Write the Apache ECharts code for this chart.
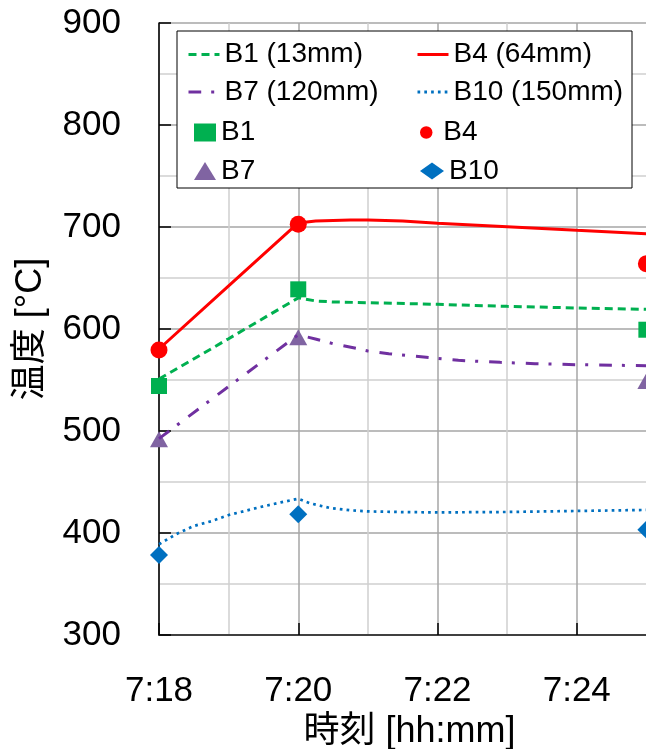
<!DOCTYPE html>
<html>
<head>
<meta charset="utf-8">
<script src="https://cdn.jsdelivr.net/npm/echarts@6/dist/echarts.min.js"></script>
<style>
html,body{margin:0;padding:0;background:#fff;}
#chart{width:646px;height:749px;}
</style>
</head>
<body>
<div id="chart"></div>
<script>
// Time in minutes after 7:00
const timesB1  = [18, 19, 20, 20.25, 20.5, 21, 22, 23, 24, 25];
const lineB1   = [551, 590.5, 630.5, 627.5, 626.5, 625.8, 624.2, 622.2, 620.6, 619.3];
const timesB4  = [18, 19, 20, 20.25, 20.5, 20.75, 21, 21.5, 22, 23, 24, 25];
const lineB4   = [580.4, 642.3, 704, 705.8, 706.4, 706.9, 706.9, 706, 703.6, 700.3, 696.7, 693.4];
const timesB7  = [18, 19, 20, 20.26, 20.5, 20.83, 21, 21.3, 21.8, 22.3, 22.9, 23.4, 24, 25];
const lineB7   = [492.5, 543.6, 594.3, 590, 585.6, 581, 578.4, 575.7, 572.5, 569.3, 567.3, 566, 565, 564];
const timesB10 = [18, 18.25, 18.5, 18.75, 19, 19.25, 19.5, 19.75, 20, 20.17, 20.45, 20.75, 21, 21.5, 22, 23, 24, 25];
const lineB10  = [389, 399, 406.9, 411.5, 417.6, 421.9, 426.2, 430, 433.6, 429.1, 424.6, 422.2, 421.2, 420.5, 420.2, 420.6, 421.6, 422.6];

const pointTimes = [18, 20, 25];
const ptB1  = [544.1, 638.9, 599.3];
const ptB4  = [579.5, 702.6, 664];
const ptB7  = [492, 592, 549];
const ptB10 = [378.4, 418.3, 403.3];

const xTicks = [18, 20, 22, 24];
const lineNames = ['B1 (13mm)', 'B4 (64mm)', 'B7 (120mm)', 'B10 (150mm)'];
const pointNames = ['B1', 'B4', 'B7', 'B10'];

const FONT = '"Liberation Sans", "Noto Sans CJK JP", sans-serif';
const pair = (xs, ys) => xs.map((x, i) => [x, ys[i]]);

const chart = echarts.init(document.getElementById('chart'), null, {renderer: 'canvas'});

const txt = {fontFamily: FONT, fontSize: 28, color: '#000', lineHeight: 30};
function leg(name, left, top, w, h, extra) {
  return Object.assign({
    data: [{name: name}], left: left, top: top, itemWidth: w, itemHeight: h,
    padding: 0, selectedMode: false, textStyle: txt, z: 11, symbolKeepAspect: true
  }, extra || {});
}
const lineLeg = {itemStyle: {opacity: 0, borderWidth: 0}, lineStyle: {width: 3}};

const option = {
  animation: false,
  backgroundColor: '#fff',
  grid: {left: 159, top: 23, width: 557, height: 612, containLabel: false, outerBoundsMode: 'none'},
  xAxis: {
    type: 'value', min: 18, max: 26, interval: 2,
    name: '時刻 [hh:mm]', nameLocation: 'middle', nameGap: 75,
    nameTextStyle: {fontFamily: FONT, fontSize: 36, color: '#000', padding: [0, 56, 0, 0]},
    axisLine: {show: true, onZero: false, lineStyle: {color: '#404040', width: 2}},
    axisTick: {show: true, inside: true, length: 12, lineStyle: {color: '#000', width: 1.5}},
    axisLabel: {fontFamily: FONT, fontSize: 35, color: '#000', margin: 39, showMaxLabel: false,
      formatter: v => xTicks.indexOf(v) >= 0 ? '7:' + v : ''},
    splitLine: {show: true, lineStyle: {color: '#a6a6a6', width: 1.5}},
    minorTick: {show: false, splitNumber: 2},
    minorSplitLine: {show: true, lineStyle: {color: '#d0d0d0', width: 1.5}}
  },
  yAxis: {
    type: 'value', min: 300, max: 900, interval: 100,
    name: '温度 [°C]', nameLocation: 'middle', nameGap: 110, nameRotate: 90,
    nameTextStyle: {fontFamily: FONT, fontSize: 36, color: '#000'},
    axisLine: {show: true, lineStyle: {color: '#000', width: 1.5}},
    axisTick: {show: true, inside: true, length: 12, lineStyle: {color: '#000', width: 1.5}},
    axisLabel: {fontFamily: FONT, fontSize: 35, color: '#000', margin: 38},
    splitLine: {show: true, lineStyle: {color: '#a6a6a6', width: 1.5}},
    minorTick: {show: false, splitNumber: 2},
    minorSplitLine: {show: true, lineStyle: {color: '#d0d0d0', width: 1.5}}
  },
  graphic: [{
    type: 'rect', z: 10, silent: true,
    shape: {x: 177, y: 31, width: 455, height: 157},
    style: {fill: '#fff', stroke: '#000', lineWidth: 1}
  }],
  legend: [
    leg(lineNames[0], 187, 39.5, 31, 14, lineLeg),
    leg(lineNames[1], 416, 39.5, 31, 14, lineLeg),
    leg(lineNames[2], 187, 77, 31, 14, lineLeg),
    leg(lineNames[3], 416, 77, 31, 14, lineLeg),
    leg(pointNames[0], 194, 117.5, 22, 18),
    leg(pointNames[1], 420, 117.5, 24, 12.5),
    leg(pointNames[2], 194, 156, 22, 18),
    leg(pointNames[3], 420, 156, 24, 17)
  ],
  series: [
    {name: lineNames[0], type: 'line', data: pair(timesB1, lineB1), smooth: false, symbol: 'none',
      color: '#00B050', lineStyle: {color: '#00B050', width: 3, type: [8, 5]}},
    {name: lineNames[1], type: 'line', data: pair(timesB4, lineB4), smooth: false, symbol: 'none',
      color: '#FF0000', lineStyle: {color: '#FF0000', width: 3, type: 'solid'}},
    {name: lineNames[2], type: 'line', data: pair(timesB7, lineB7), smooth: false, symbol: 'none',
      color: '#7030A0', lineStyle: {color: '#7030A0', width: 3, type: [12.7, 10, 3, 11]}},
    {name: lineNames[3], type: 'line', data: pair(timesB10, lineB10), smooth: false, symbol: 'none',
      color: '#0070C0', lineStyle: {color: '#0070C0', width: 2.7, type: [2.7, 4.1]}},
    {name: pointNames[0], type: 'scatter', data: pair(pointTimes, ptB1), symbol: 'rect', symbolSize: 16,
      itemStyle: {color: '#00B050', opacity: 1}},
    {name: pointNames[1], type: 'scatter', data: pair(pointTimes, ptB4), symbol: 'circle', symbolSize: 17,
      itemStyle: {color: '#FF0000', opacity: 1}},
    {name: pointNames[2], type: 'scatter', data: pair(pointTimes, ptB7), symbol: 'triangle', symbolSize: [18, 16],
      itemStyle: {color: '#8064A2', opacity: 1}},
    {name: pointNames[3], type: 'scatter', data: pair(pointTimes, ptB10), symbol: 'diamond', symbolSize: 18,
      itemStyle: {color: '#0070C0', opacity: 1}}
  ]
};
chart.setOption(option);
</script>
</body>
</html>
